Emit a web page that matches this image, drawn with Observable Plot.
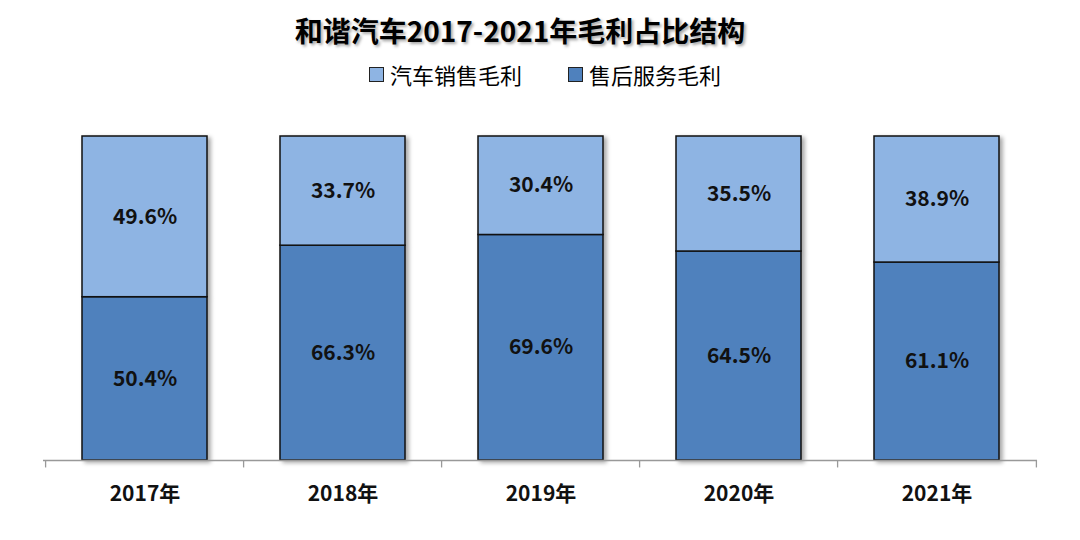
<!DOCTYPE html>
<html>
<head>
<meta charset="utf-8">
<script src="https://cdn.jsdelivr.net/npm/d3@7"></script>
<script src="https://cdn.jsdelivr.net/npm/@observablehq/plot@0.6"></script>
<style>
  html, body { margin: 0; padding: 0; background: #fff; }
  body { width: 1080px; height: 540px; overflow: hidden; font-family: "Noto Sans CJK SC", "Noto Sans", sans-serif; }
  #title { height: 52px; line-height: 60px; text-align: center; font-size: 28px; font-weight: 700; color: #000; padding-right: 40px;
           text-shadow: 2px 2px 3px rgba(0,0,0,0.35); }
  #legend { height: 44px; display: flex; justify-content: center; align-items: center; gap: 46px; font-size: 22px; color: #000; padding-left: 10px; box-sizing: border-box; }
  .item { display: flex; align-items: center; gap: 6px; }
  .sw { width: 13px; height: 13px; border: 1.5px solid #222; display: inline-block; }
</style>
</head>
<body>
<div id="title">和谐汽车2017-2021年毛利占比结构</div>
<div id="legend"></div>
<div id="chart"></div>
<script>
const years = ["2017年", "2018年", "2019年", "2020年", "2021年"];
const seriesNames = ["售后服务毛利", "汽车销售毛利"];
const serviceShare = [50.4, 66.3, 69.6, 64.5, 61.1];
const salesShare = [49.6, 33.7, 30.4, 35.5, 38.9];
const colors = ["#4F81BD", "#8EB4E3"];

const data = [];
years.forEach((y, i) => {
  data.push({year: y, series: seriesNames[0], value: serviceShare[i]});
  data.push({year: y, series: seriesNames[1], value: salesShare[i]});
});

// legend (order as in reference: sales first, then service)
const legend = document.getElementById("legend");
[[seriesNames[1], colors[1]], [seriesNames[0], colors[0]]].forEach(([name, c]) => {
  const it = document.createElement("div");
  it.className = "item";
  it.innerHTML = `<span class="sw" style="background:${c}"></span><span>${name}</span>`;
  legend.appendChild(it);
});

const W = 1080, H = 444, ML = 43, MR = 43, MT = 40, MB = 80;
const step = (W - ML - MR) / years.length;

const chart = Plot.plot({
  width: W,
  height: H,
  marginLeft: ML,
  marginRight: MR,
  marginTop: MT,
  marginBottom: MB,
  style: {fontFamily: '"Noto Sans CJK SC", sans-serif', background: "#fff", overflow: "visible"},
  x: {domain: years, paddingInner: 0.37, paddingOuter: 0.185, label: null},
  y: {domain: [0, 100], axis: null},
  color: {domain: seriesNames, range: colors},
  marks: [
    Plot.barY(data, Plot.stackY({x: "year", y: "value", fill: "series", z: "series", stroke: "#111", strokeWidth: 1.5, order: seriesNames})),
    Plot.text(data, Plot.stackY({x: "year", y: "value", z: "series", order: seriesNames, text: d => d.value.toFixed(1) + "%", fontSize: 21, fontWeight: 700, fill: "#111"})),
    Plot.ruleY([0], {stroke: "#999", strokeWidth: 1.3}),
    Plot.ruleX(years, {x: d => d, y1: 0, y2: -2.3, dx: -step / 2, stroke: "#999", strokeWidth: 1.3}),
    Plot.ruleX([years[years.length - 1]], {x: d => d, y1: 0, y2: -2.3, dx: step / 2, stroke: "#999", strokeWidth: 1.3}),
    Plot.axisX({tickSize: 0, tickPadding: 26, fontSize: 21, fontWeight: 700, fill: "#111", label: null})
  ]
});
chart.querySelectorAll('g[aria-label="bar"]').forEach(g => g.style.filter = "drop-shadow(3px 2px 2px rgba(0,0,0,0.35))");
chart.querySelectorAll('g[aria-label="x-axis tick label"] text').forEach(t => { t.style.fontWeight = 700; t.style.fontSize = "21px"; });
document.getElementById("chart").appendChild(chart);
</script>
</body>
</html>
